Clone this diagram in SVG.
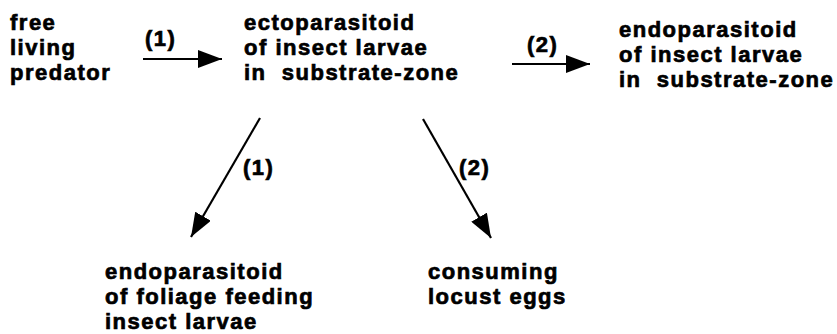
<svg xmlns="http://www.w3.org/2000/svg" width="837" height="334" viewBox="0 0 837 334">
<defs>
<style>
text{font-family:"Liberation Sans",Arial,Helvetica,sans-serif;font-weight:bold;font-size:22px;letter-spacing:1.5px;fill:#000;stroke:#000;stroke-width:0.7;white-space:pre}
.c{stroke:#000;stroke-width:2.2;fill:none}
</style>
<marker id="ah" viewBox="0 0 24 18" refX="24" refY="9" markerWidth="24" markerHeight="18" markerUnits="userSpaceOnUse" orient="auto">
<path d="M0,0 L24,9 L0,18 Z" fill="#000"/>
</marker>
</defs>
<rect width="837" height="334" fill="#fff"/>
<g id="connectors">
<line class="c" x1="143" y1="59" x2="222" y2="59" marker-end="url(#ah)"/>
<text x="145" y="46">(1)</text>
<line class="c" x1="512" y1="64" x2="590" y2="64" marker-end="url(#ah)"/>
<text x="527" y="52">(2)</text>
<line class="c" x1="260" y1="118" x2="191" y2="237" marker-end="url(#ah)"/>
<text x="243" y="175">(1)</text>
<line class="c" x1="423" y1="119" x2="491" y2="238" marker-end="url(#ah)"/>
<text x="459" y="175">(2)</text>
</g>
<g id="free-living-predator">
<text x="10" y="30">free</text>
<text x="10" y="55">living</text>
<text x="10" y="80">predator</text>
</g>
<g id="ectoparasitoid">
<text x="244" y="30">ectoparasitoid</text>
<text x="244" y="55">of insect larvae</text>
<text x="244" y="80">in  substrate-zone</text>
</g>
<g id="endoparasitoid-substrate">
<text x="619" y="37">endoparasitoid</text>
<text x="619" y="62">of insect larvae</text>
<text x="619" y="87">in  substrate-zone</text>
</g>
<g id="endoparasitoid-foliage">
<text x="105" y="279">endoparasitoid</text>
<text x="105" y="304">of foliage feeding</text>
<text x="105" y="329">insect larvae</text>
</g>
<g id="consuming-locust-eggs">
<text x="428" y="279">consuming</text>
<text x="428" y="304">locust eggs</text>
</g>
</svg>
